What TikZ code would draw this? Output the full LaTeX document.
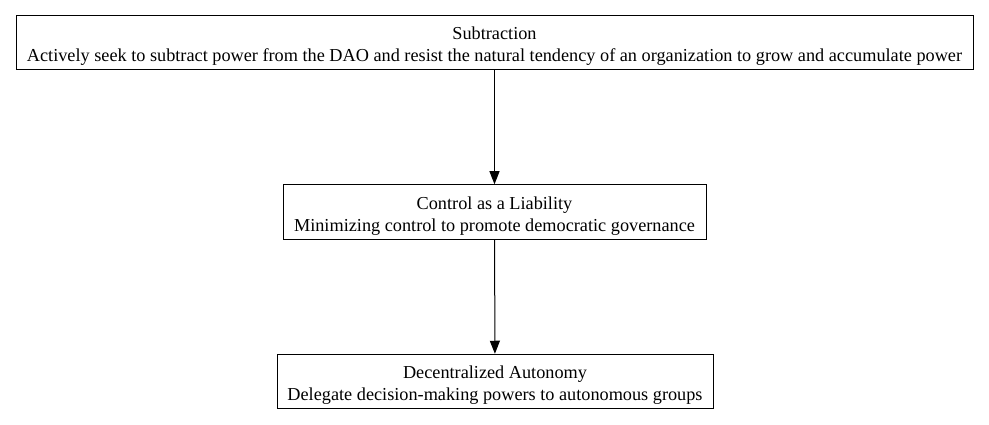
\documentclass[tikz,border=0pt]{standalone}
\usepackage{fontspec}
\setmainfont{Liberation Serif}
\usepackage{tikz}
\usetikzlibrary{arrows.meta}
\usetikzlibrary{positioning}
\tikzset{
  >={Triangle[length=13pt,width=10pt]},
  line/.style={draw, ->}
}
\newcommand{\toplift}{\rule{0pt}{20pt}}

\begin{document}
\begin{tikzpicture}[
    x=1pt, y=-1pt,
    box/.style={rectangle, draw=black, line width=1pt, fill=white,
               align=center, minimum height=54.5pt, inner sep=0pt,
               font=\fontsize{18.25}{22}\selectfont},
    arrow/.style={->, line width=1pt, draw=black}
]
\useasboundingbox (0,0) rectangle (989,425);

% Principle Components
\node[box, minimum width=957pt] (subtraction) at (494.5,42.5) {\toplift Subtraction\\Actively seek to subtract power from the DAO and resist the natural tendency of an organization to grow and accumulate power};
\node[box, minimum width=423pt] (control) at (494.5,212) {\toplift Control as a Liability\\Minimizing control to promote democratic governance};
\node[box, minimum width=436pt] (autonomy) at (495,381.5) {\toplift Decentralized Autonomy\\Delegate decision-making powers to autonomous groups};

% Flow Arrows
\draw[arrow] (subtraction) -- (control);
\draw[arrow] (control) -- (autonomy);

\end{tikzpicture}
\end{document}
